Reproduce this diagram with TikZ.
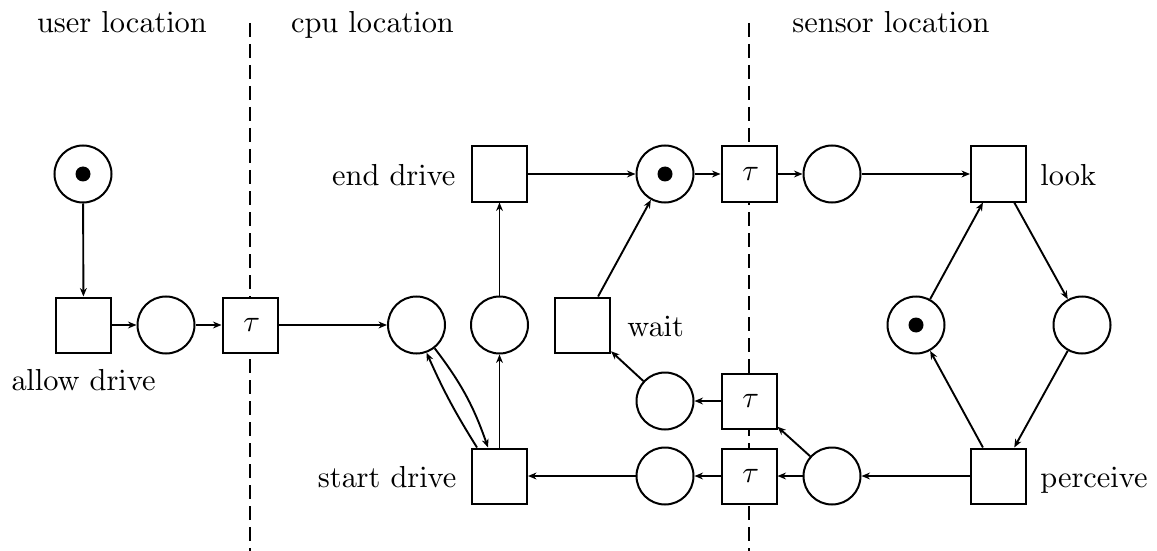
\documentclass[tikz,border=0pt]{standalone}
\usetikzlibrary{arrows.meta}
\font\lblfont=cmr10 at 15.2pt
\font\taufont=cmmi10 at 15.2pt
\newcommand\tauglyph{{\taufont\char"1C}}
\begin{document}
\begin{tikzpicture}[x=0.5pt,y=-0.5pt,
  font=\lblfont,
  trans/.style={draw,line width=1pt,fill=white,minimum size=27.5pt,inner sep=0pt},
  place/.style={circle,draw,line width=1pt,fill=white,minimum size=28.5pt,inner sep=0pt},
  flow/.style={line width=0.95pt,-{Stealth[length=4.2pt,width=3.4pt,inset=1.3pt]}},
  zone/.style={line width=1pt,dash pattern=on 7pt off 3.5pt},
  txt/.style={inner sep=0pt}]
\useasboundingbox (0,0) rectangle (1157,551);

% location borders
\coordinate (b1top) at (250,23);
\coordinate (b1bot) at (250,551);
\coordinate (b2top) at (749,23);
\coordinate (b2bot) at (749,551);
\draw[zone] (b1top) -- (b1bot);
\draw[zone] (b2top) -- (b2bot);

% location headings
\node[txt,anchor=base] (huser) at (122,33) {user location};
\node[txt,anchor=base] (hcpu) at (372.5,33) {cpu location};
\node[txt,anchor=base] (hsensor) at (891,33) {sensor location};

% places
\node[place] (p0) at (83,174) {};
\node[place] (p1) at (166,325) {};
\node[place] (p2) at (416.5,325) {};
\node[place] (p3) at (499.5,325) {};
\node[place] (p4) at (665,174) {};
\node[place] (p5) at (832,174) {};
\node[place] (p6) at (916,325) {};
\node[place] (p7) at (1082,325) {};
\node[place] (p8) at (832,476) {};
\node[place] (p9) at (665,476) {};
\node[place] (p10) at (665,401) {};

% tokens
\fill (p0.center) circle (3.75pt);
\fill (p4.center) circle (3.75pt);
\fill (p6.center) circle (3.75pt);

% transitions
\node[trans] (tallow) at (83.5,325) {};
\node[trans] (tau1) at (250,325) {\tauglyph};
\node[trans] (twait) at (582.5,325) {};
\node[trans] (tend) at (499.5,174) {};
\node[trans] (tau2) at (749,174) {\tauglyph};
\node[trans] (tlook) at (998.5,174) {};
\node[trans] (tperc) at (998.5,476) {};
\node[trans] (tau3) at (749,476) {\tauglyph};
\node[trans] (tstart) at (499.5,476) {};
\node[trans] (tau4) at (749,401) {\tauglyph};

% transition labels
\node[txt,anchor=base] (lallow) at (83.5,390) {allow drive};
\node[txt,anchor=base east] (lend) at (456,185) {end drive};
\node[txt,anchor=base east] (lstart) at (457,487) {start drive};
\node[txt,anchor=base west] (lwait) at (627,336) {wait};
\node[txt,anchor=base west] (llook) at (1040,185) {look};
\node[txt,anchor=base west] (lperc) at (1040,487) {perceive};

% arcs
\draw[flow] (p0) -- (tallow);
\draw[flow] (tallow) -- (p1);
\draw[flow] (p1) -- (tau1);
\draw[flow] (tau1) -- (p2);
\draw[flow] ([xshift=3pt]tstart.north west) to[bend left=4] (p2.-70);
\draw[flow] (p2.-52) to[bend left=9] ([xshift=8.5pt]tstart.north west);
\draw[flow] (tstart) -- (p3);
\draw[flow] (p3) -- (tend);
\draw[flow] (tend) -- (p4);
\draw[flow] (twait) -- (p4);
\draw[flow] (p4) -- (tau2);
\draw[flow] (tau2) -- (p5);
\draw[flow] (p5) -- (tlook);
\draw[flow] (tlook) -- (p7);
\draw[flow] (p7) -- (tperc);
\draw[flow] (tperc) -- (p6);
\draw[flow] (p6) -- (tlook);
\draw[flow] (tperc) -- (p8);
\draw[flow] (p8) -- (tau3);
\draw[flow] (tau3) -- (p9);
\draw[flow] (p9) -- (tstart);
\draw[flow] (p8) -- (tau4);
\draw[flow] (tau4) -- (p10);
\draw[flow] (p10) -- (twait);
\end{tikzpicture}
\end{document}
